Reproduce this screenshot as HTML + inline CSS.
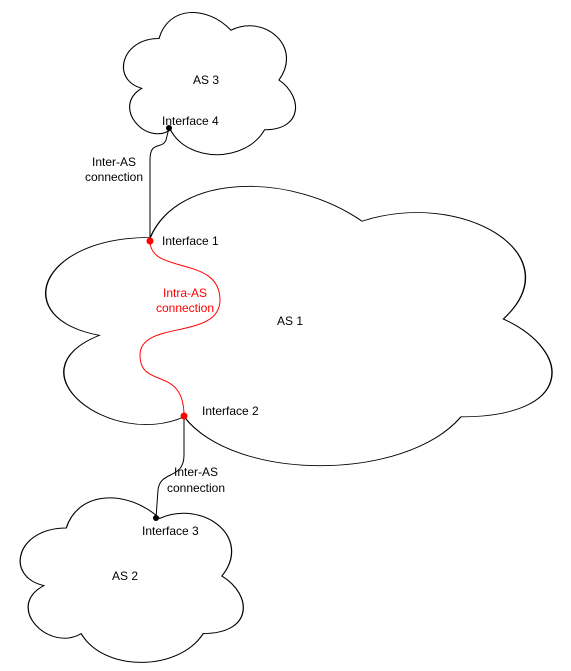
<!DOCTYPE html>
<html><head><meta charset="utf-8"><style>body{margin:0;background:#fff}svg{display:block}text{font-family:"Liberation Sans",Arial,sans-serif;font-size:12px}</style></head><body>
<svg width="571" height="671" viewBox="0 0 571 671" xmlns="http://www.w3.org/2000/svg">
<defs>
<path id="cloud" d="M0.25 0.25 C0.05 0.25 0 0.5 0.16 0.55 C0 0.66 0.18 0.9 0.31 0.8 C0.4 1 0.7 1 0.8 0.8 C1 0.8 1 0.6 0.875 0.5 C1 0.3 0.8 0.1 0.625 0.2 C0.5 0.05 0.3 0.05 0.25 0.25 Z"/>
</defs>
<g fill="#fff" stroke="#000">
<use href="#cloud" transform="translate(111,-3) scale(192,166)" stroke-width="0.006"/>
<use href="#cloud" transform="translate(9,156) scale(565,326)" stroke-width="0.0025"/>
<use href="#cloud" transform="translate(4,480) scale(249,192)" stroke-width="0.005"/>
</g>
<path d="M150 241 L150 160 C150 140 162 150 166 140 L169 128" fill="none" stroke="#000"/>
<path d="M184 416 L184 455 C184 480 160 470 158 490 L156 518" fill="none" stroke="#000"/>
<path d="M150 241 C150 275 220 255 220 300 C220 340 140 320 140 355 C140 390 184 365 184 416" fill="none" stroke="#f00"/>
<circle cx="169" cy="128" r="3" fill="#000"/>
<circle cx="156" cy="518" r="3" fill="#000"/>
<circle cx="150" cy="241" r="3.5" fill="#f00"/>
<circle cx="184" cy="416" r="3.5" fill="#f00"/>
<text x="193" y="84">AS 3</text>
<text x="162" y="125">Interface 4</text>
<text x="114" y="166" text-anchor="middle">Inter-AS</text>
<text x="114" y="181" text-anchor="middle">connection</text>
<text x="162" y="245">Interface 1</text>
<text x="185" y="297" text-anchor="middle" fill="#f00">Intra-AS</text>
<text x="185" y="312" text-anchor="middle" fill="#f00">connection</text>
<text x="277" y="325">AS 1</text>
<text x="202" y="415">Interface 2</text>
<text x="196" y="476" text-anchor="middle">Inter-AS</text>
<text x="196" y="492" text-anchor="middle">connection</text>
<text x="142" y="535">Interface 3</text>
<text x="112" y="580">AS 2</text>
</svg>
</body></html>
